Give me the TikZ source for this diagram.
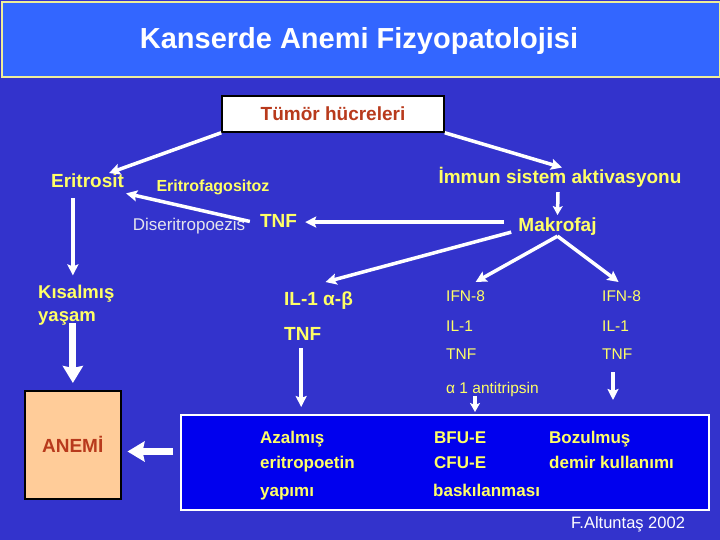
\documentclass[tikz,border=0pt]{standalone}
\usepackage{fontspec}
\setmainfont{Liberation Sans}
\usetikzlibrary{arrows.meta,calc}
\definecolor{bg}{HTML}{3333CC}
\definecolor{titlebg}{HTML}{3366FF}
\definecolor{titleborder}{HTML}{EEEE99}
\definecolor{ytext}{HTML}{FFFF66}
\definecolor{brick}{HTML}{B83A1C}
\definecolor{peach}{HTML}{FFCC99}
\definecolor{boxblue}{HTML}{0000EE}
\definecolor{pale}{HTML}{E4E4EC}
\newcommand\fsz[1]{\fontsize{#1}{#1}\selectfont}
\begin{document}
\begin{tikzpicture}[x=1pt,y=-1pt,
  txt/.style={inner sep=1pt, anchor=base},
  txtw/.style={inner sep=1pt, anchor=base west},
  ybold/.style={text=ytext, font=\bfseries\fsz{#1}},
  yreg/.style={text=ytext, font=\fsz{#1}},
  arr/.style={draw=white, line width=3.5pt, -{Stealth[length=11pt,width=11pt,inset=2pt]}},
  smallarr/.style={draw=white, line width=3.5pt, -{Stealth[length=9pt,width=10pt,inset=2pt]}},
  bigarr/.style={draw=white, line width=7pt, -{Stealth[length=17pt,width=20pt,inset=2pt]}}
]
\fill[bg] (0,0) rectangle (720,540);
\useasboundingbox (0,0) rectangle (720,540);
% title bar
\node[draw=titleborder, fill=titlebg, line width=2pt, minimum width=718, minimum height=75, anchor=north west, inner sep=0] (titlebar) at (1,1) {};
\node[txt, text=white, font=\bfseries\fsz{29}] (title) at (359,49) {Kanserde Anemi Fizyopatolojisi};
% tumour box
\node[draw=black, fill=white, line width=1.5pt, minimum width=222, minimum height=36, inner sep=0, text=brick, font=\bfseries\fsz{19}] (tumor) at (333,114) {Tümör hücreleri};
% left branch
\node[txt, ybold=19] (eritrosit) at (87.5,188) {Eritrosit};
\node[txt, ybold=16] (eritrofag) at (213,192) {Eritrofagositoz};
\node[txt, text=pale, font=\fsz{17}] (diser) at (189,230) {Diseritropoezis};
\node[txt, ybold=19] (tnf1) at (278.5,227) {TNF};
\node[txtw, ybold=18.5] (kisalmis) at (37,298) {Kısalmış};
\node[txtw, ybold=18.5] (yasam) at (37,321) {yaşam};
% right branch
\node[txt, ybold=19] (immun) at (560,184) {İmmun sistem aktivasyonu};
\node[txt, ybold=19] (makrofaj) at (557.5,231) {Makrofaj};
\node[txtw, ybold=19] (il1ab) at (283,305) {IL-1 α-β};
\node[txtw, ybold=19] (tnf2) at (283,340) {TNF};
\node[txtw, yreg=15.5] (ifnL) at (445,301) {IFN-8};
\node[txtw, yreg=15.5] (il1L) at (445,331) {IL-1};
\node[txtw, yreg=15.5] (tnfL) at (445,359) {TNF};
\node[txtw, yreg=15.5] (alpha) at (445,393) {α 1 antitripsin};
\node[txtw, yreg=15.5] (ifnR) at (601,301) {IFN-8};
\node[txtw, yreg=15.5] (il1R) at (601,331) {IL-1};
\node[txtw, yreg=15.5] (tnfR) at (601,359) {TNF};
% bottom boxes
\node[draw=white, fill=boxblue, line width=2pt, minimum width=528, minimum height=95, anchor=north west, inner sep=0] (bluebox) at (180,414) {};
\node[txtw, ybold=17] (azal) at (259,443) {Azalmış};
\node[txtw, ybold=17] (eritp) at (259,468) {eritropoetin};
\node[txtw, ybold=17] (yapimi) at (259,496) {yapımı};
\node[txtw, ybold=17] (bfu) at (433,443) {BFU-E};
\node[txtw, ybold=17] (cfu) at (433,468) {CFU-E};
\node[txtw, ybold=17] (bask) at (432,496) {baskılanması};
\node[txtw, ybold=17] (bozul) at (548,443) {Bozulmuş};
\node[txtw, ybold=17] (demir) at (548,468) {demir kullanımı};
\node[draw=black, fill=peach, line width=1.5pt, minimum width=96, minimum height=108, anchor=north west, inner sep=0, text=brick, font=\bfseries\fsz{19}] (anemibox) at (24,390) {ANEMİ};
\node[txtw, text=white, font=\fsz{16.5}] (author) at (570,528) {F.Altuntaş 2002};
% connectors
\draw[arr] (tumor.south west) -- ($(eritrosit.north east)+(-16,0)$);
\draw[arr] ($(tnf1.west)+(-9,1)$) -- ($(eritrosit.south east)+(1,4)$);
\draw[arr] (tumor.south east) -- ($(immun.north)+(2,1)$);
\draw[smallarr] ($(immun.south)+(-2,3)$) -- ($(makrofaj.north)+(0,-1)$);
\coordinate (mk1) at ($(makrofaj.west)+(-13,-4)$);
\coordinate (tnfin) at ($(tnf1.east)+(7,0)$);
\draw[arr] (mk1) -- (mk1 -| tnfin);
\draw[arr] ($(makrofaj.south west)+(-6,-4)$) -- ($(il1ab.north)+(7,-8)$);
\draw[arr] (makrofaj.south) -- ($(ifnL.north)+(10,-7)$);
\draw[arr] (makrofaj.south) -- ($(ifnR.north)+(-3,-7)$);
\coordinate (t2) at ($(tnf2.south)+(-1.5,7)$);
\draw[arr, shorten >=7pt] (t2) -- (t2 |- bluebox.north);
\coordinate (a2) at ($(alpha.south west)+(30,-1)$);
\draw[smallarr, shorten >=2pt] (a2) -- (a2 |- bluebox.north);
\coordinate (r2) at ($(tnfR.south west)+(12,12)$);
\draw[arr, shorten >=14pt] (r2) -- (r2 |- bluebox.north);
\coordinate (e1) at ($(eritrosit.south west)+(23,9)$);
\draw[arr, shorten >=8pt] (e1) -- (e1 |- kisalmis.north);
\coordinate (k1) at ($(e1 |- yasam.south)+(0,-3)$);
\draw[bigarr, shorten >=7pt] (k1) -- (k1 |- anemibox.north);
\coordinate (b1) at ($(bluebox.west)+(-7,-11)$);
\draw[bigarr, shorten >=6pt] (b1) -- (b1 -| anemibox.east);
\end{tikzpicture}
\end{document}
